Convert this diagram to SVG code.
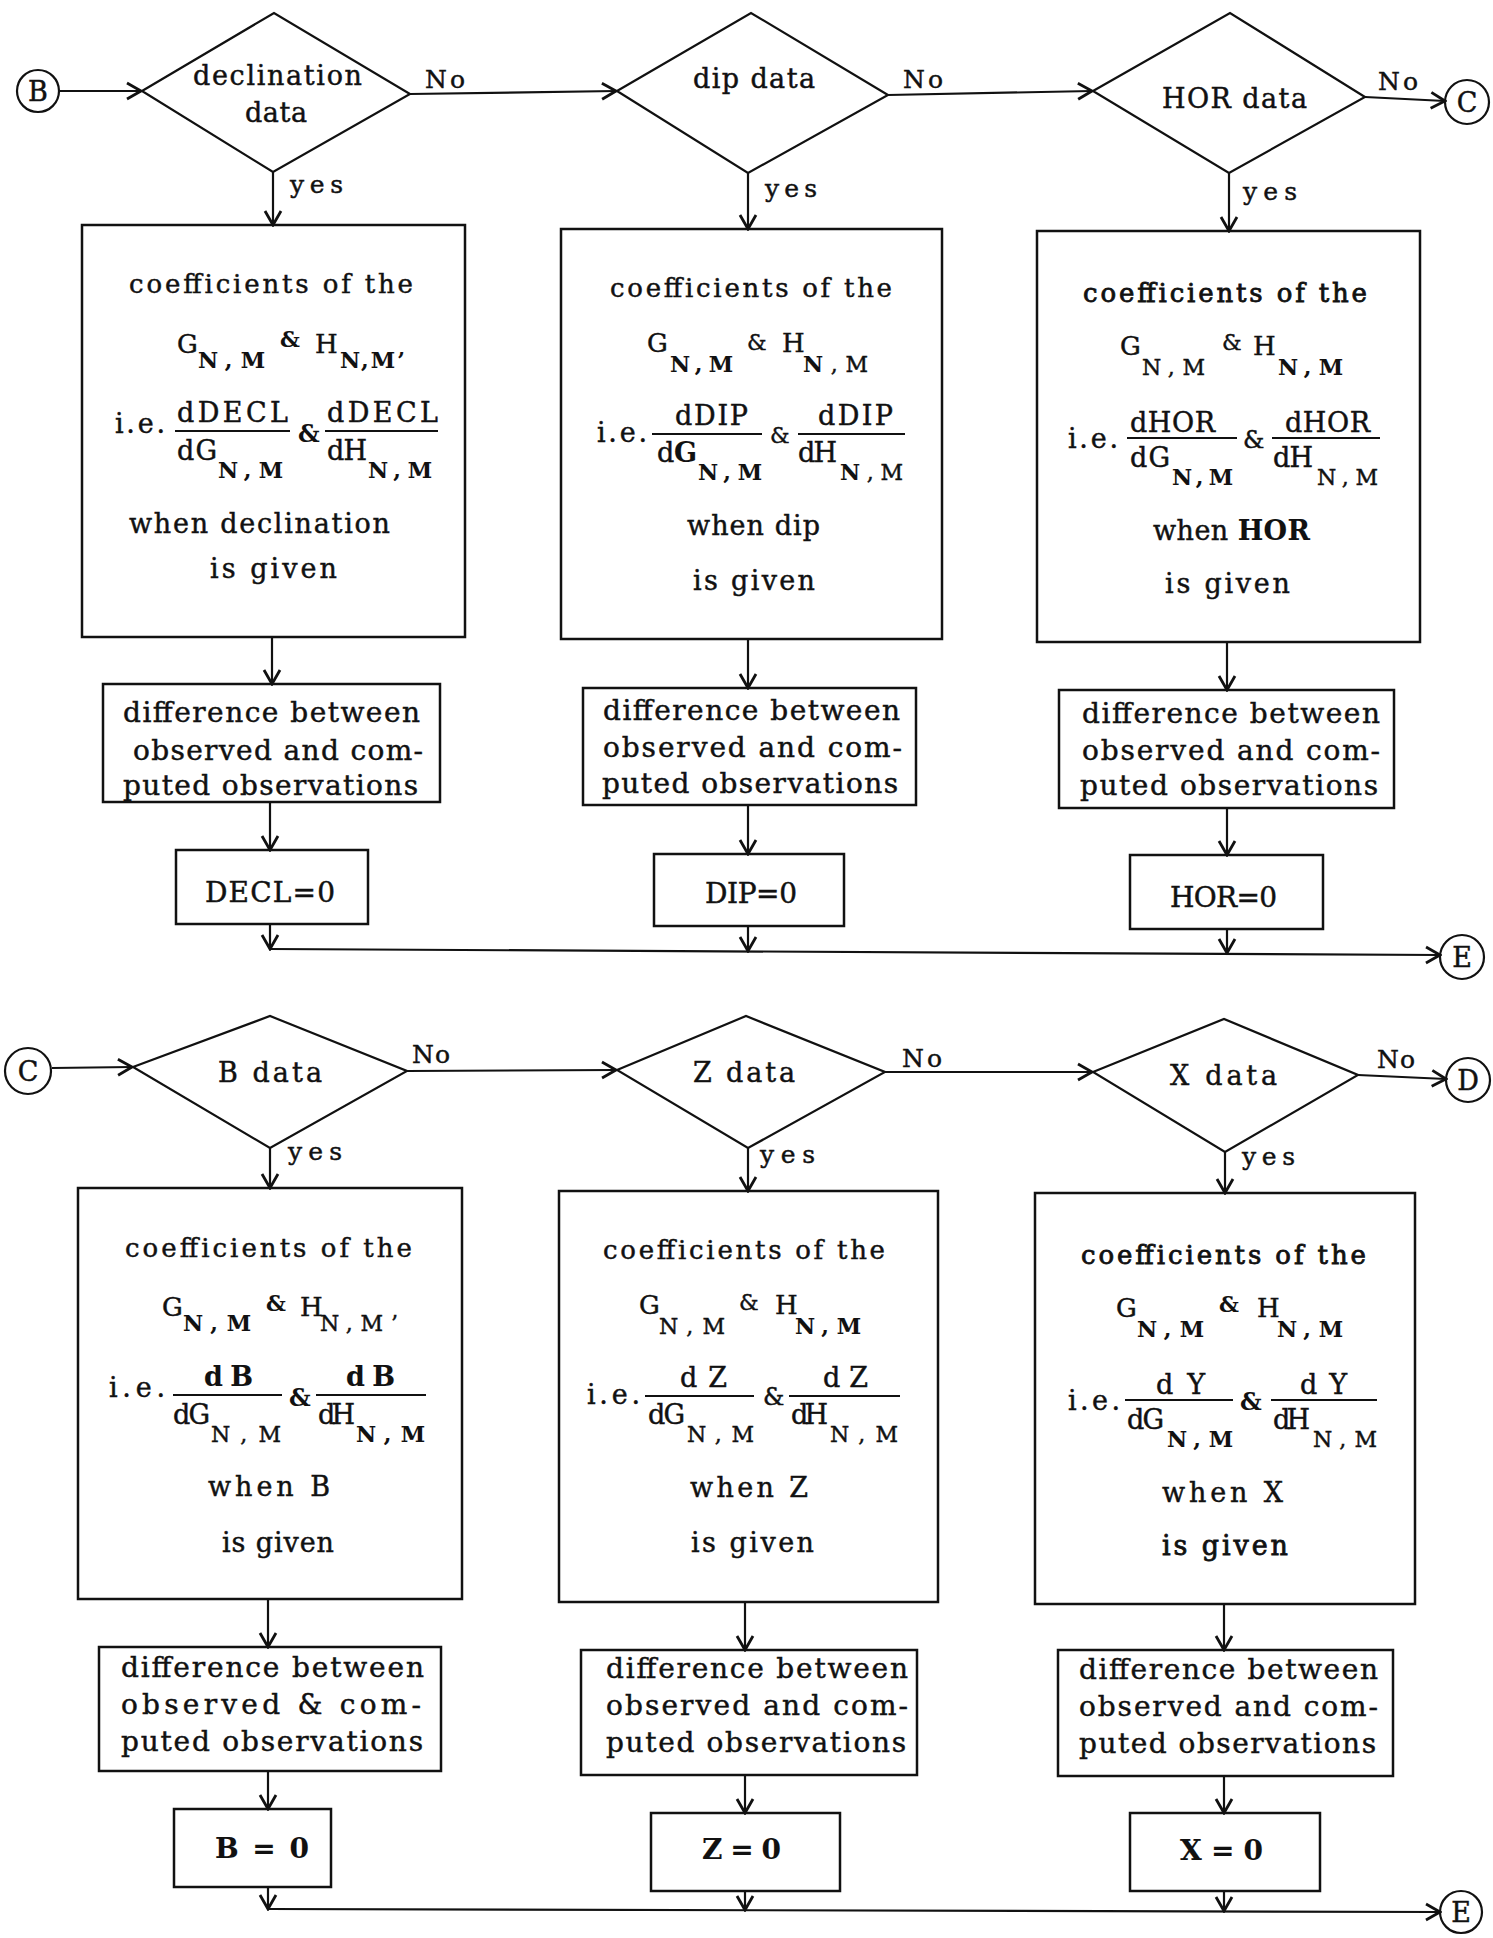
<svg xmlns="http://www.w3.org/2000/svg" width="1493" height="1938" viewBox="0 0 1493 1938">
<style>
.bg{fill:#fff}
.ln{fill:none;stroke:#111;stroke-width:2.2}
.bx{fill:none;stroke:#111;stroke-width:2.5}
.dm{fill:none;stroke:#111;stroke-width:2.2}
.cr{fill:none;stroke:#111;stroke-width:2.2}
text{font-family:"DejaVu Serif","Liberation Serif",serif;fill:#111;stroke:#111;stroke-width:0.45}
.s20{font-size:20px}
.s22{font-size:22px}
.s24{font-size:24px}
.s25{font-size:25px}
.s26{font-size:26px}
.s27{font-size:27px}
.s28{font-size:28px}
.b{font-weight:bold;stroke-width:0.1}
.m{text-anchor:middle}
</style>
<defs>
<marker id="ah" viewBox="-16 -10 18 20" refX="0" refY="0" markerWidth="18" markerHeight="20" markerUnits="userSpaceOnUse" orient="auto">
<path d="M-14,-8 L0,0 L-14,8" fill="none" stroke="#111" stroke-width="2.8"/>
</marker>
</defs>
<rect class="bg" x="0" y="0" width="1493" height="1938"/>

<g id="connectors">
<path class="ln" d="M59,91 H141" marker-end="url(#ah)"/>
<path class="ln" d="M410,94 L616,91" marker-end="url(#ah)"/>
<path class="ln" d="M888,95 L1092,91" marker-end="url(#ah)"/>
<path class="ln" d="M1365,97 L1445,101" marker-end="url(#ah)"/>
<path class="ln" d="M273,172 V225" marker-end="url(#ah)"/>
<path class="ln" d="M748,173 V229" marker-end="url(#ah)"/>
<path class="ln" d="M1229,173 V231" marker-end="url(#ah)"/>
<path class="ln" d="M272,637 V684" marker-end="url(#ah)"/>
<path class="ln" d="M748,639 V688" marker-end="url(#ah)"/>
<path class="ln" d="M1227,642 V690" marker-end="url(#ah)"/>
<path class="ln" d="M270,802 V850" marker-end="url(#ah)"/>
<path class="ln" d="M748,805 V854" marker-end="url(#ah)"/>
<path class="ln" d="M1227,808 V855" marker-end="url(#ah)"/>
<path class="ln" d="M270,924 V949" marker-end="url(#ah)"/>
<path class="ln" d="M748,926 V951" marker-end="url(#ah)"/>
<path class="ln" d="M1227,929 V953" marker-end="url(#ah)"/>
<path class="ln" d="M270,949 L1440,955" marker-end="url(#ah)"/>

<path class="ln" d="M52,1068 L132,1067" marker-end="url(#ah)"/>
<path class="ln" d="M407,1071 L616,1070" marker-end="url(#ah)"/>
<path class="ln" d="M885,1072 L1092,1072" marker-end="url(#ah)"/>
<path class="ln" d="M1358,1075 L1446,1079" marker-end="url(#ah)"/>
<path class="ln" d="M270,1148 V1188" marker-end="url(#ah)"/>
<path class="ln" d="M748,1148 V1191" marker-end="url(#ah)"/>
<path class="ln" d="M1225,1152 V1193" marker-end="url(#ah)"/>
<path class="ln" d="M268,1599 V1647" marker-end="url(#ah)"/>
<path class="ln" d="M745,1602 V1650" marker-end="url(#ah)"/>
<path class="ln" d="M1224,1604 V1650" marker-end="url(#ah)"/>
<path class="ln" d="M268,1771 V1809" marker-end="url(#ah)"/>
<path class="ln" d="M745,1775 V1813" marker-end="url(#ah)"/>
<path class="ln" d="M1224,1776 V1813" marker-end="url(#ah)"/>
<path class="ln" d="M268,1887 V1909" marker-end="url(#ah)"/>
<path class="ln" d="M745,1891 V1910" marker-end="url(#ah)"/>
<path class="ln" d="M1224,1891 V1911" marker-end="url(#ah)"/>
<path class="ln" d="M268,1909 L1440,1912" marker-end="url(#ah)"/>

<text class="s25" x="425" y="88" textLength="40">No</text>
<text class="s25" x="903" y="88" textLength="40">No</text>
<text class="s25" x="1378" y="90" textLength="40">No</text>
<text class="s25" x="290" y="193" textLength="53">yes</text>
<text class="s25" x="765" y="197" textLength="52">yes</text>
<text class="s25" x="1243" y="200" textLength="54">yes</text>
<text class="s25" x="412" y="1063" textLength="38">No</text>
<text class="s25" x="902" y="1067" textLength="40">No</text>
<text class="s25" x="1377" y="1068" textLength="38">No</text>
<text class="s25" x="288" y="1160" textLength="54">yes</text>
<text class="s25" x="760" y="1163" textLength="55">yes</text>
<text class="s25" x="1242" y="1165" textLength="53">yes</text>
</g>

<g id="conn-B">
<circle class="cr" cx="38" cy="91" r="21"/>
<text class="s27 m" x="38" y="101">B</text>
</g>
<g id="conn-C-out">
<circle class="cr" cx="1467" cy="102" r="22"/>
<text class="s27 m" x="1467" y="112">C</text>
</g>
<g id="conn-E-top">
<circle class="cr" cx="1462" cy="957" r="22"/>
<text class="s27 m" x="1462" y="967">E</text>
</g>
<g id="conn-C-in">
<circle class="cr" cx="28" cy="1071" r="23"/>
<text class="s27 m" x="28" y="1081">C</text>
</g>
<g id="conn-D">
<circle class="cr" cx="1468" cy="1080" r="22"/>
<text class="s27 m" x="1468" y="1090">D</text>
</g>
<g id="conn-E-bottom">
<circle class="cr" cx="1461" cy="1912" r="21"/>
<text class="s27 m" x="1461" y="1922">E</text>
</g>

<g id="dec-decl">
<polygon class="dm" points="142,91 274,13 410,94 273,172"/>
<text class="s27" x="193" y="85" textLength="169">declination</text>
<text class="s27" x="245" y="122" textLength="62">data</text>
</g>
<g id="dec-dip">
<polygon class="dm" points="617,91 751,13 888,95 748,173"/>
<text class="s27" x="693" y="88" textLength="122">dip data</text>
</g>
<g id="dec-hor">
<polygon class="dm" points="1093,91 1230,13 1365,97 1229,173"/>
<text class="s27" x="1162" y="108" textLength="145">HOR data</text>
</g>

<g id="coef-decl">
<rect class="bx" x="82" y="225" width="383" height="412"/>
<text class="s26" x="129" y="293" textLength="284">coefficients of the</text>
<text class="s26" x="177" y="353">G</text>
<text class="s22 b" x="198" y="368" textLength="67">N,M</text>
<text class="s22 b" x="280" y="347">&amp;</text>
<text class="s26" x="315" y="353">H</text>
<text class="s22 b" x="340" y="368" textLength="65">N,M’</text>
<text class="s27" x="115" y="433" textLength="50">i.e.</text>
<text class="s27" x="177" y="422" textLength="111">dDECL</text>
<line class="ln" x1="175" y1="431" x2="290" y2="431"/>
<text class="s27" x="177" y="460" textLength="40">dG</text>
<text class="s22 b" x="218" y="478" textLength="65">N,M</text>
<text class="s24 b" x="298" y="442">&amp;</text>
<text class="s27" x="327" y="422" textLength="111">dDECL</text>
<line class="ln" x1="325" y1="431" x2="438" y2="431"/>
<text class="s27" x="327" y="460" textLength="40">dH</text>
<text class="s22 b" x="368" y="478" textLength="64">N,M</text>
<text class="s27" x="129" y="533" textLength="261">when declination</text>
<text class="s27" x="210" y="578" textLength="127">is given</text>
</g>
<g id="coef-dip">
<rect class="bx" x="561" y="229" width="381" height="410"/>
<text class="s26" x="610" y="297" textLength="282">coefficients of the</text>
<text class="s26" x="647" y="352">G</text>
<text class="s22 b" x="670" y="372" textLength="63">N,M</text>
<text class="s22" x="747" y="350">&amp;</text>
<text class="s26" x="782" y="352">H</text>
<text class="s22" x="803" y="372" textLength="65"><tspan class="b">N</tspan>,M</text>
<text class="s27" x="597" y="442" textLength="50">i.e.</text>
<text class="s27" x="675" y="425" textLength="73">dDIP</text>
<line class="ln" x1="652" y1="434" x2="762" y2="434"/>
<text class="s27" x="657" y="462" textLength="40">d<tspan class="b">G</tspan></text>
<text class="s22 b" x="698" y="480" textLength="64">N,M</text>
<text class="s22" x="770" y="443">&amp;</text>
<text class="s27" x="818" y="425" textLength="75">dDIP</text>
<line class="ln" x1="798" y1="434" x2="905" y2="434"/>
<text class="s27" x="798" y="462" textLength="39">dH</text>
<text class="s22" x="840" y="480" textLength="63"><tspan class="b">N</tspan>,M</text>
<text class="s27" x="687" y="535" textLength="133">when dip</text>
<text class="s27" x="693" y="590" textLength="122">is given</text>
</g>
<g id="coef-hor">
<rect class="bx" x="1037" y="231" width="383" height="411"/>
<text class="s26" x="1083" y="302" textLength="284" style="stroke-width:0.8">coefficients of the</text>
<text class="s26" x="1120" y="355">G</text>
<text class="s22" x="1142" y="375" textLength="63">N,M</text>
<text class="s22" x="1222" y="350">&amp;</text>
<text class="s26" x="1253" y="355">H</text>
<text class="s22 b" x="1278" y="375" textLength="65">N,M</text>
<text class="s27" x="1068" y="448" textLength="50">i.e.</text>
<text class="s27" x="1130" y="432" textLength="85">dHOR</text>
<line class="ln" x1="1127" y1="438" x2="1237" y2="438"/>
<text class="s27" x="1130" y="467" textLength="40">dG</text>
<text class="s22 b" x="1172" y="485" textLength="61">N,M</text>
<text class="s24" x="1243" y="448">&amp;</text>
<text class="s27" x="1285" y="432" textLength="85">dHOR</text>
<line class="ln" x1="1272" y1="438" x2="1380" y2="438"/>
<text class="s27" x="1273" y="467" textLength="40">dH</text>
<text class="s22" x="1317" y="485" textLength="61">N,M</text>
<text class="s27" x="1153" y="540" textLength="157">when <tspan class="b">HOR</tspan></text>
<text class="s27" x="1165" y="593" textLength="125">is given</text>
</g>

<g id="diff-decl">
<rect class="bx" x="103" y="684" width="337" height="118"/>
<text class="s28" x="123" y="722" textLength="297">difference between</text>
<text class="s28" x="133" y="760" textLength="290">observed and com-</text>
<text class="s28" x="123" y="795" textLength="295">puted observations</text>
</g>
<g id="diff-dip">
<rect class="bx" x="583" y="688" width="333" height="117"/>
<text class="s28" x="603" y="720" textLength="297">difference between</text>
<text class="s28" x="603" y="757" textLength="299">observed and com-</text>
<text class="s28" x="602" y="793" textLength="296">puted observations</text>
</g>
<g id="diff-hor">
<rect class="bx" x="1059" y="690" width="335" height="118"/>
<text class="s28" x="1082" y="723" textLength="298">difference between</text>
<text class="s28" x="1082" y="760" textLength="298">observed and com-</text>
<text class="s28" x="1080" y="795" textLength="298">puted observations</text>
</g>

<g id="zero-decl">
<rect class="bx" x="176" y="850" width="192" height="74"/>
<text class="s28" x="205" y="902" textLength="130">DECL=0</text>
</g>
<g id="zero-dip">
<rect class="bx" x="654" y="854" width="190" height="72"/>
<text class="s28" x="705" y="903" textLength="92">DIP=0</text>
</g>
<g id="zero-hor">
<rect class="bx" x="1130" y="855" width="193" height="74"/>
<text class="s28" x="1170" y="907" textLength="107">HOR=0</text>
</g>

<g id="dec-b">
<polygon class="dm" points="133,1067 270,1016 407,1071 270,1148"/>
<text class="s27" x="218" y="1082" textLength="104">B  data</text>
</g>
<g id="dec-z">
<polygon class="dm" points="617,1070 746,1016 885,1072 748,1148"/>
<text class="s27" x="693" y="1082" textLength="102">Z  data</text>
</g>
<g id="dec-x">
<polygon class="dm" points="1093,1072 1224,1019 1358,1075 1225,1152"/>
<text class="s27" x="1170" y="1085" textLength="107">X  data</text>
</g>

<g id="coef-b">
<rect class="bx" x="78" y="1188" width="384" height="411"/>
<text class="s26" x="125" y="1257" textLength="287">coefficients of the</text>
<text class="s26" x="162" y="1316">G</text>
<text class="s22 b" x="183" y="1331" textLength="68">N,M</text>
<text class="s22 b" x="266" y="1311">&amp;</text>
<text class="s26" x="300" y="1316">H</text>
<text class="s22" x="320" y="1331" textLength="78">N,M’</text>
<text class="s27" x="109" y="1397" textLength="56">i.e.</text>
<text class="s27 b" x="204" y="1386" textLength="49">d B</text>
<line class="ln" x1="173" y1="1395" x2="282" y2="1395"/>
<text class="s27" x="173" y="1424" textLength="37">dG</text>
<text class="s22" x="211" y="1442" textLength="70">N,M</text>
<text class="s24 b" x="289" y="1406">&amp;</text>
<text class="s27 b" x="346" y="1386" textLength="49">d B</text>
<line class="ln" x1="316" y1="1395" x2="426" y2="1395"/>
<text class="s27" x="318" y="1424" textLength="37">dH</text>
<text class="s22 b" x="356" y="1442" textLength="69">N,M</text>
<text class="s27" x="208" y="1496" textLength="122">when  B</text>
<text class="s27" x="222" y="1552" textLength="112">is given</text>
</g>
<g id="coef-z">
<rect class="bx" x="559" y="1191" width="379" height="411"/>
<text class="s26" x="603" y="1259" textLength="282">coefficients of the</text>
<text class="s26" x="639" y="1314">G</text>
<text class="s22" x="659" y="1334" textLength="66">N,M</text>
<text class="s22" x="739" y="1310">&amp;</text>
<text class="s26" x="775" y="1314">H</text>
<text class="s22 b" x="795" y="1334" textLength="66">N,M</text>
<text class="s27" x="587" y="1404" textLength="53">i.e.</text>
<text class="s27" x="680" y="1387" textLength="47">d Z</text>
<line class="ln" x1="645" y1="1396" x2="754" y2="1396"/>
<text class="s27" x="648" y="1424" textLength="37">dG</text>
<text class="s22" x="687" y="1442" textLength="67">N,M</text>
<text class="s24" x="763" y="1405">&amp;</text>
<text class="s27" x="823" y="1387" textLength="45">d Z</text>
<line class="ln" x1="789" y1="1396" x2="900" y2="1396"/>
<text class="s27" x="791" y="1424" textLength="37">dH</text>
<text class="s22" x="830" y="1442" textLength="68">N,M</text>
<text class="s27" x="690" y="1497" textLength="118">when  Z</text>
<text class="s27" x="691" y="1552" textLength="123">is given</text>
</g>
<g id="coef-x">
<rect class="bx" x="1035" y="1193" width="380" height="411"/>
<text class="s26" x="1081" y="1264" textLength="285" style="stroke-width:0.8">coefficients of the</text>
<text class="s26" x="1116" y="1317">G</text>
<text class="s22 b" x="1137" y="1337" textLength="67">N,M</text>
<text class="s22 b" x="1219" y="1312">&amp;</text>
<text class="s26" x="1257" y="1317">H</text>
<text class="s22 b" x="1277" y="1337" textLength="66">N,M</text>
<text class="s27" x="1068" y="1410" textLength="52">i.e.</text>
<text class="s27" x="1156" y="1394" textLength="49">d Y</text>
<line class="ln" x1="1125" y1="1400" x2="1233" y2="1400"/>
<text class="s27" x="1127" y="1429" textLength="37">dG</text>
<text class="s22 b" x="1167" y="1447" textLength="66">N,M</text>
<text class="s24 b" x="1240" y="1410">&amp;</text>
<text class="s27" x="1300" y="1394" textLength="47">d Y</text>
<line class="ln" x1="1271" y1="1400" x2="1377" y2="1400"/>
<text class="s27" x="1273" y="1429" textLength="37">dH</text>
<text class="s22" x="1313" y="1447" textLength="64">N,M</text>
<text class="s27" x="1162" y="1502" textLength="121">when  X</text>
<text class="s27" x="1162" y="1555" textLength="126" style="stroke-width:0.8">is given</text>
</g>

<g id="diff-b">
<rect class="bx" x="99" y="1647" width="342" height="124"/>
<text class="s28" x="121" y="1677" textLength="303">difference between</text>
<text class="s28" x="121" y="1714" textLength="300">observed &amp; com-</text>
<text class="s28" x="121" y="1751" textLength="302">puted observations</text>
</g>
<g id="diff-z">
<rect class="bx" x="581" y="1650" width="336" height="125"/>
<text class="s28" x="606" y="1678" textLength="302">difference between</text>
<text class="s28" x="606" y="1715" textLength="302">observed and com-</text>
<text class="s28" x="606" y="1752" textLength="300">puted observations</text>
</g>
<g id="diff-x">
<rect class="bx" x="1058" y="1650" width="335" height="126"/>
<text class="s28" x="1079" y="1679" textLength="299">difference between</text>
<text class="s28" x="1079" y="1716" textLength="299">observed and com-</text>
<text class="s28" x="1079" y="1753" textLength="297">puted observations</text>
</g>

<g id="zero-b">
<rect class="bx" x="174" y="1809" width="157" height="78"/>
<text class="s28 b" x="215" y="1858" textLength="94">B = 0</text>
</g>
<g id="zero-z">
<rect class="bx" x="651" y="1813" width="189" height="78"/>
<text class="s28 b" x="702" y="1859" textLength="79">Z = 0</text>
</g>
<g id="zero-x">
<rect class="bx" x="1130" y="1813" width="190" height="78"/>
<text class="s28 b" x="1180" y="1860" textLength="83">X = 0</text>
</g>
</svg>
